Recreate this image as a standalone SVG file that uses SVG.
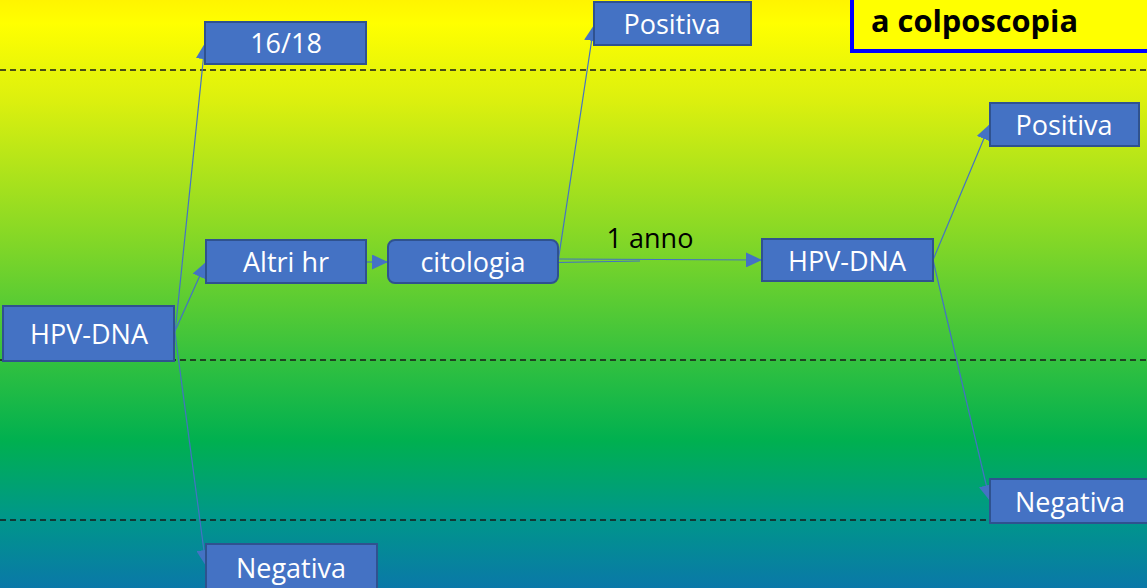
<svg xmlns="http://www.w3.org/2000/svg" width="1147" height="588" viewBox="0 0 1147 588">
  <defs>
    <linearGradient id="bg" x1="0" y1="0" x2="0" y2="1">
      <stop offset="0" stop-color="#fff400"/>
      <stop offset="0.04" stop-color="#ffff00"/>
      <stop offset="0.17" stop-color="#dcf00e"/>
      <stop offset="0.42" stop-color="#7fd628"/>
      <stop offset="0.62" stop-color="#30c040"/>
      <stop offset="0.75" stop-color="#00b050"/>
      <stop offset="0.88" stop-color="#00978a"/>
      <stop offset="1" stop-color="#0a78a8"/>
    </linearGradient>
    <marker id="arrow" markerUnits="userSpaceOnUse" markerWidth="16" markerHeight="15" refX="16" refY="7.5" orient="auto">
      <path d="M0,0 L16,7.5 L0,15 z" fill="#4472c4"/>
    </marker>
    <style>
      .box { fill: #4472c4; stroke: #2f528f; stroke-width: 2; }
      .lbl { fill: #ffffff; font-family: "Open Sans", "Liberation Sans", sans-serif; font-size: 27px; text-anchor: middle; }
      .edge { fill: none; stroke: #4472c4; stroke-width: 1.2; }
      .guide { stroke: #1a1a1a; stroke-width: 1.3; stroke-dasharray: 6 4; }
      .note { fill: #000000; font-family: "Open Sans", "Liberation Sans", sans-serif; font-size: 27px; }
    </style>
  </defs>

  <!-- background -->
  <rect x="0" y="0" width="1147" height="588" fill="url(#bg)"/>

  <!-- dashed band separators -->
  <g id="guides">
    <line class="guide" x1="0" y1="70" x2="1147" y2="70"/>
    <line class="guide" x1="0" y1="360" x2="1147" y2="360"/>
    <line class="guide" x1="0" y1="520" x2="1147" y2="520"/>
  </g>

  <!-- title box -->
  <g id="title">
    <rect x="852" y="-5" width="302" height="56" fill="#ffff00" stroke="#0000ff" stroke-width="4"/>
    <text x="871" y="32" font-family="'Open Sans', 'Liberation Sans', sans-serif" font-size="30" font-weight="bold" fill="#000000" textLength="207" lengthAdjust="spacingAndGlyphs">a colposcopia</text>
  </g>

  <!-- connectors -->
  <g id="connectors">
    <line class="edge" x1="175" y1="333" x2="205" y2="43" marker-end="url(#arrow)"/>
    <line class="edge" x1="175" y1="331" x2="206" y2="262" marker-end="url(#arrow)"/>
    <line class="edge" x1="175" y1="333" x2="206" y2="566" marker-end="url(#arrow)"/>
    <line class="edge" x1="366" y1="262" x2="388" y2="262" marker-end="url(#arrow)"/>
    <line class="edge" x1="558" y1="262" x2="594" y2="25" marker-end="url(#arrow)"/>
    <line class="edge" x1="558" y1="259" x2="762" y2="260" marker-end="url(#arrow)"/>
    <line class="edge" x1="558" y1="262.5" x2="640" y2="261"/>
    <line class="edge" x1="933" y1="260" x2="990" y2="124" marker-end="url(#arrow)"/>
    <line class="edge" x1="933" y1="260" x2="990" y2="501" marker-end="url(#arrow)"/>
    <text class="note" x="650" y="248" text-anchor="middle">1 anno</text>
  </g>

  <!-- nodes -->
  <g id="hpv-dna-start">
    <rect class="box" x="3" y="306" width="171" height="55"/>
    <text class="lbl" x="89" y="344">HPV-DNA</text>
  </g>
  <g id="type-16-18">
    <rect class="box" x="205" y="22" width="161" height="42"/>
    <text class="lbl" x="286" y="53">16/18</text>
  </g>
  <g id="altri-hr">
    <rect class="box" x="206" y="240" width="160" height="43"/>
    <text class="lbl" x="286" y="272">Altri hr</text>
  </g>
  <g id="negativa-first">
    <rect class="box" x="206" y="544" width="171" height="50"/>
    <text class="lbl" x="291" y="578">Negativa</text>
  </g>
  <g id="citologia">
    <rect class="box" x="388" y="240" width="170" height="43" rx="7" ry="7"/>
    <text class="lbl" x="473" y="272">citologia</text>
  </g>
  <g id="positiva-citologia">
    <rect class="box" x="594" y="2" width="157" height="43"/>
    <text class="lbl" x="672" y="34">Positiva</text>
  </g>
  <g id="hpv-dna-followup">
    <rect class="box" x="762" y="239" width="171" height="42"/>
    <text class="lbl" x="847" y="271">HPV-DNA</text>
  </g>
  <g id="positiva-followup">
    <rect class="box" x="990" y="103" width="149" height="43"/>
    <text class="lbl" x="1064" y="135">Positiva</text>
  </g>
  <g id="negativa-followup">
    <rect class="box" x="990" y="479" width="165" height="44"/>
    <text class="lbl" x="1070" y="512">Negativa</text>
  </g>
</svg>
